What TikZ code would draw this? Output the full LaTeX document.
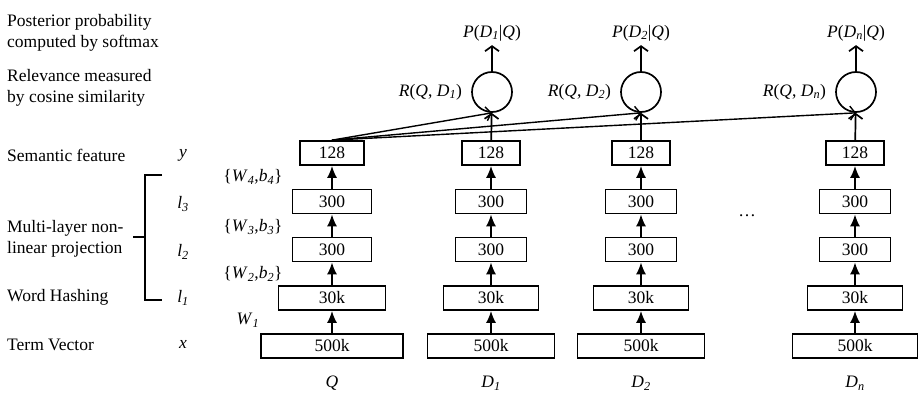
\documentclass[tikz,border=0pt]{standalone}
\usepackage{fontspec}
\setmainfont{Liberation Serif}
\usetikzlibrary{arrows.meta}

\newcommand{\sbi}[1]{\textsubscript{\textit{#1}}}

\begin{document}
\begin{tikzpicture}[x=1pt, y=-1pt, font=\fontsize{17.5}{21}\selectfont, line width=1.7pt,
		layer/.style={draw, minimum height=24, inner sep=0pt},
		up/.style={-{Latex[length=12pt, width=10pt]}},
		sim/.style={-{Straight Barb[length=5pt, width=14pt]}}]
			\useasboundingbox (0,0) rectangle (918,401);

			% left hand descriptions
			\node[anchor=west, align=left] (post) at (3,33) {Posterior probability\\computed by softmax};
			\node[anchor=west, align=left] (rel) at (3,88) {Relevance measured\\by cosine similarity};
			\node[anchor=west] (sem) at (3,155) {Semantic feature};
			\node[anchor=west, align=left] (mlp) at (3,239) {Multi-layer non-\\linear projection};
			\node[anchor=west] (hash) at (3,297) {Word Hashing};
			\node[anchor=west] (term) at (3,345) {Term Vector};

			\node (vy) at (183,155) {\textit{y}};
			\node (vl3) at (183,204) {\textit{l}\sbi{3}};
			\node (vl2) at (183,252) {\textit{l}\sbi{2}};
			\node (vl1) at (183,298) {\textit{l}\sbi{1}};
			\node (vx) at (183,344) {\textit{x}};

			\draw (162,175) -- (145,175) -- (145,300) -- (162,300);
			\draw (133,237) -- (145,237);

			\node (w4) at (253,177) {\{\textit{W}\sbi{4},\textit{b}\sbi{4}\}};
			\node (w3) at (253,227) {\{\textit{W}\sbi{3},\textit{b}\sbi{3}\}};
			\node (w2) at (253,274) {\{\textit{W}\sbi{2},\textit{b}\sbi{2}\}};
			\node (w1) at (248,320) {\textit{W}\sbi{1}};

			% the towers
			\foreach \c/\x/\wy/\wt/\ws/\wh/\lab in {q/332/64/79/107/142/{\textit{Q}},
					d1/491/58/71/95/127/{\textit{D}\sbi{1}},
					d2/641/58/71/95/127/{\textit{D}\sbi{2}},
					dn/855/58/71/95/125/{\textit{D}\sbi{n}}} {
				\node[layer, minimum width=\wh] (\c-x) at (\x,346) {500k};
				\node[layer, minimum width=\ws] (\c-h) at (\x,298) {30k};
				\node[layer, minimum width=\wt] (\c-l2) at (\x,249.5) {300};
				\node[layer, minimum width=\wt] (\c-l3) at (\x,201.5) {300};
				\node[layer, minimum width=\wy] (\c-y) at (\x,153) {128};
				\node (\c-name) at (\x,383) {\lab};
				\draw[up] (\c-x) -- (\c-h);
				\draw[up] (\c-h) -- (\c-l2);
				\draw[up] (\c-l2) -- (\c-l3);
				\draw[up] (\c-l3) -- (\c-y);
			}

			\node (dots) at (747,216) {\dots};

			% relevance and posterior
			\foreach \c/\x/\k in {d1/492/1, d2/641/2, dn/856/n} {
				\node[circle, draw, minimum size=40, inner sep=0pt] (\c-r) at (\x,92) {};
				\node[anchor=east] (\c-rl) at ([xshift=-5pt]\c-r.west) {\textit{R}(\textit{Q}, \textit{D}\sbi{\k})};
				\node (\c-p) at (\x,33) {\textit{P}(\textit{D}\sbi{\k}|\textit{Q})};
				\draw[sim] (\c-r) -- (\c-p);
				\draw[sim] (\c-y) -- (\c-r);
				\draw[sim, line width=1.4pt] (q-y.north) -- (\c-r.south);
			}
		\end{tikzpicture}
\end{document}
